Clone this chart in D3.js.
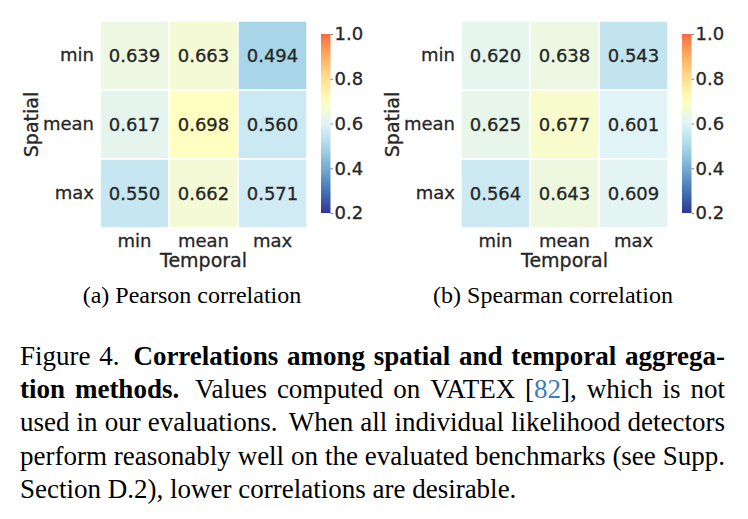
<!DOCTYPE html>
<html>
<head>
<meta charset="utf-8">
<script src="https://cdn.jsdelivr.net/npm/d3@7"></script>
<style>
  body { margin: 0; background: #fff; }
  svg { display: block; }
</style>
</head>
<body>
<script>
// heatmap data
var rows = ["min", "mean", "max"];       // Spatial
var cols = ["min", "mean", "max"];       // Temporal
var pearson = [[0.639, 0.663, 0.494],
               [0.617, 0.698, 0.560],
               [0.550, 0.662, 0.571]];
var spearman = [[0.620, 0.638, 0.543],
                [0.625, 0.677, 0.601],
                [0.564, 0.643, 0.609]];
var cbarTicks = [0.2, 0.4, 0.6, 0.8, 1.0];
var subcaptions = ["(a) Pearson correlation", "(b) Spearman correlation"];

// caption lines: [text, style] pieces, b = bold, c = citation colour
var caption = [
    [["Figure 4. ", ""], ["Correlations among spatial and temporal aggrega-", "b"]],
    [["tion methods.", "b"], [" Values computed on VATEX [", ""], ["82", "c"], ["], which is not", ""]],
    [["used in our evaluations. When all individual likelihood detectors", ""]],
    [["perform reasonably well on the evaluated benchmarks (see Supp.", ""]],
    [["Section D.2), lower correlations are desirable.", ""]]
];

var W = 748, H = 519;
var ink = "#262626";
var sans = "'DejaVu Sans', sans-serif";
var serif = "'Liberation Serif', 'Times New Roman', serif";

var svg = d3.select("body").append("svg")
    .attr("width", W)
    .attr("height", H);

// RdYlBu_r, recentred at 0.7 (seaborn center) -> spans 0.2 .. 1.2
var rdylbu = ["#313695", "#4575b4", "#74add1", "#abd9e9", "#e0f3f8", "#ffffbf",
              "#fee090", "#fdae61", "#f46d43", "#d73027", "#a50026"];
var color = d3.scaleLinear()
    .domain(d3.range(11).map(function(i) { return 0.2 + i * 0.1; }))
    .range(rdylbu)
    .interpolate(d3.interpolateRgb);

var gridW = 207, gridH = 207, gridTop = 21;
var fmt = d3.format(".3f");

// sans text helper, slight stroke to match the soft raster look
function sansText(sel, size) {
    return sel.style("font-family", sans)
        .style("font-size", size + "px")
        .style("fill", ink)
        .style("stroke", ink)
        .style("stroke-width", 0.3);
}

function drawPanel(x0, data, caption, idx) {
    var g = svg.append("g").attr("transform", "translate(" + x0 + "," + gridTop + ")");

    var x = d3.scaleBand().domain(cols).range([0, gridW]);
    var y = d3.scaleBand().domain(rows).range([0, gridH]);

    var cells = [];
    data.forEach(function(r, i) {
        r.forEach(function(v, j) {
            cells.push({ row: rows[i], col: cols[j], v: v });
        });
    });

    g.selectAll("rect.cell")
        .data(cells)
        .enter().append("rect")
        .attr("class", "cell")
        .attr("x", function(d) { return x(d.col); })
        .attr("y", function(d) { return y(d.row); })
        .attr("width", x.bandwidth())
        .attr("height", y.bandwidth())
        .attr("fill", function(d) { return color(d.v); })
        .attr("stroke", "#fff")
        .attr("stroke-width", 1.5);

    sansText(g.selectAll("text.annot")
        .data(cells)
        .enter().append("text")
        .attr("class", "annot")
        .attr("x", function(d) { return x(d.col) + x.bandwidth() / 2; })
        .attr("y", function(d) { return y(d.row) + y.bandwidth() / 2; })
        .attr("dy", "0.36em")
        .attr("text-anchor", "middle"), 18)
        .text(function(d) { return fmt(d.v); });

    // axes
    var xAxis = g.append("g")
        .attr("transform", "translate(0," + gridH + ")")
        .call(d3.axisBottom(x).tickSize(0).tickPadding(6));
    var yAxis = g.append("g")
        .call(d3.axisLeft(y).tickSize(0).tickPadding(6));
    [xAxis, yAxis].forEach(function(a) {
        a.attr("font-family", sans).attr("font-size", 18);
        a.select(".domain").remove();
        sansText(a.selectAll("text"), 18);
    });

    sansText(g.append("text")
        .attr("x", gridW / 2)
        .attr("y", 246)
        .attr("text-anchor", "middle"), 19)
        .text("Temporal");

    sansText(g.append("text")
        .attr("transform", "translate(-62," + gridH / 2 + ") rotate(-90)")
        .attr("text-anchor", "middle"), 19)
        .text("Spatial");

    // colorbar
    var cb = svg.append("g").attr("transform", "translate(" + (x0 + 221) + ",34)");
    var cbW = 9.5, cbH = 179;
    var cy = d3.scaleLinear().domain([0.2, 1.0]).range([cbH, 0]);
    var gradId = "grad" + idx;
    var grad = svg.append("defs").append("linearGradient")
        .attr("id", gradId)
        .attr("x1", 0).attr("y1", 1).attr("x2", 0).attr("y2", 0);
    d3.range(0, 1.0001, 0.05).forEach(function(t) {
        grad.append("stop")
            .attr("offset", t)
            .attr("stop-color", color(0.2 + 0.8 * t));
    });
    cb.append("rect")
        .attr("width", cbW)
        .attr("height", cbH)
        .attr("fill", "url(#" + gradId + ")");
    var cAxis = cb.append("g")
        .attr("transform", "translate(" + cbW + ",0)")
        .call(d3.axisRight(cy).tickValues(cbarTicks).tickSize(2.5).tickPadding(1.5)
            .tickFormat(d3.format(".1f")));
    cAxis.select(".domain").remove();
    cAxis.selectAll("line").attr("stroke", "#666").attr("stroke-width", 0.8);
    sansText(cAxis.selectAll("text"), 18);

    // sub caption
    svg.append("text")
        .attr("x", x0 + 92)
        .attr("y", 303)
        .attr("text-anchor", "middle")
        .style("font-family", serif)
        .style("font-size", "24px")
        .style("fill", "#000")
        .text(caption);
}

drawPanel(100, pearson, subcaptions[0], 0);
drawPanel(461, spearman, subcaptions[1], 1);

// caption, justified word by word
var capLeft = 20, capRight = 725, capTop = 365, capLead = 33.2;

function toWords(line) {
    var words = [[]];
    line.forEach(function(p) {
        p[0].split(" ").forEach(function(part, i) {
            if (i > 0) words.push([]);
            if (part) words[words.length - 1].push([part, p[1]]);
        });
    });
    return words.filter(function(w) { return w.length; });
}

var capG = svg.append("g")
    .style("font-family", serif)
    .style("font-size", "27px")
    .style("fill", "#000");

var spaceW = (function() {
    var t = capG.append("text").text("a a");
    var t2 = capG.append("text").text("aa");
    var w = t.node().getComputedTextLength() - t2.node().getComputedTextLength();
    t.remove(); t2.remove();
    return w;
})();

caption.forEach(function(line, li) {
    var words = toWords(line);
    var yy = capTop + li * capLead;
    var nodes = words.map(function(w) {
        var t = capG.append("text").attr("y", yy);
        w.forEach(function(p) {
            t.append("tspan")
                .style("font-weight", p[1] === "b" ? "bold" : null)
                .style("fill", p[1] === "c" ? "#3a7dc2" : null)
                .text(p[0]);
        });
        return t;
    });
    var widths = nodes.map(function(t) { return t.node().getComputedTextLength(); });
    var weights = words.slice(0, -1).map(function(w) {
        var last = w[w.length - 1][0];
        return /[a-z0-9]\.$/.test(last) && last !== "D.2" ? 1.6 : 1;
    });
    var total = d3.sum(widths);
    var last = li === caption.length - 1;
    var unit = last ? spaceW : (capRight - capLeft - total) / d3.sum(weights);
    var xx = capLeft;
    nodes.forEach(function(t, i) {
        t.attr("x", xx);
        xx += widths[i] + (i < weights.length ? unit * weights[i] : 0);
    });
});
</script>
</body>
</html>
